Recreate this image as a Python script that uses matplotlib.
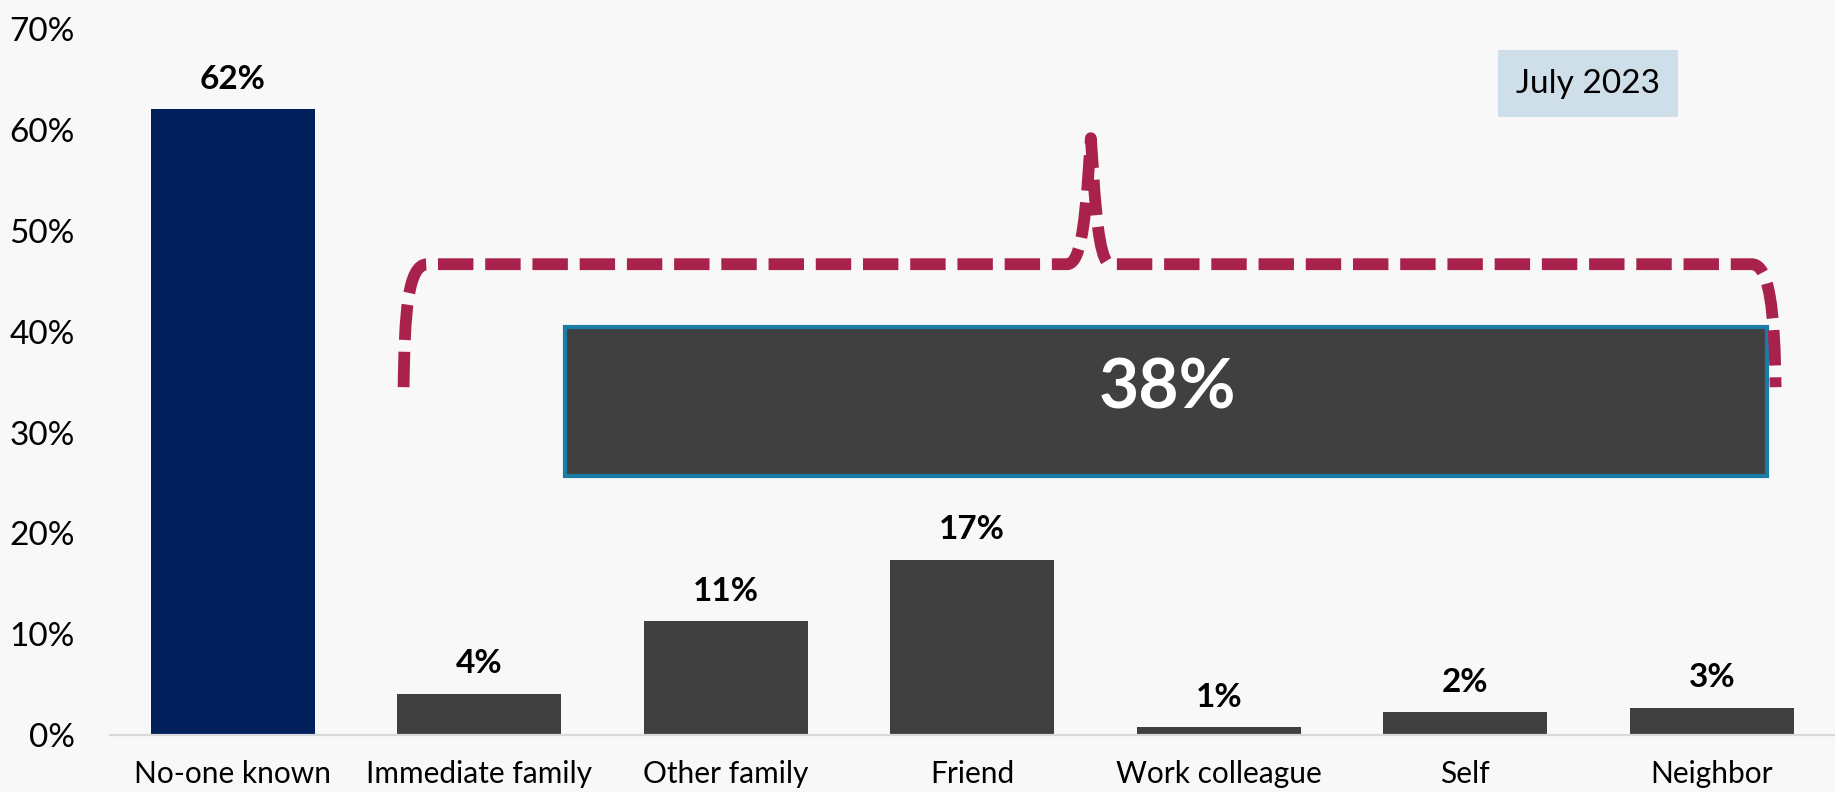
import matplotlib.pyplot as plt
from matplotlib.path import Path
from matplotlib.patches import PathPatch, Rectangle

plt.rcParams['font.family'] = ['Lato', 'DejaVu Sans']

categories = ['No-one known', 'Immediate family', 'Other family', 'Friend',
              'Work colleague', 'Self', 'Neighbor']
shares = [62.1, 4.1, 11.3, 17.4, 0.8, 2.3, 2.7]
known_total = 38
period = 'July 2023'

bg = '#F8F8F8'
navy = '#001F5B'
grey = '#404040'
crimson = '#A8224B'

fig = plt.figure(figsize=(18.35, 7.92), dpi=100, facecolor=bg)
ax = fig.add_axes([0.0597, 0.072, 0.9403, 0.891], facecolor=bg)

colors = [navy] + [grey] * (len(categories) - 1)
x = list(range(len(categories)))
bars = ax.bar(x, shares, width=0.665, color=colors, zorder=2)

for b, v in zip(bars, shares):
    ax.annotate('%d%%' % round(v), (b.get_x() + b.get_width() / 2, v),
                xytext=(0, 11), textcoords='offset points',
                ha='center', va='bottom', fontsize=24, fontweight='bold',
                color='black')

ax.set_xlim(-0.5, len(categories) - 0.5)
ax.set_ylim(0, 70)
ax.set_yticks(range(0, 71, 10))
ax.set_yticklabels(['%d%%' % t for t in range(0, 71, 10)])
ax.set_xticks(x)
ax.set_xticklabels(categories)
ax.tick_params(axis='y', length=0, pad=25, labelsize=24)
ax.tick_params(axis='x', length=0, pad=18, labelsize=21.5)

for s in ['top', 'right', 'left']:
    ax.spines[s].set_visible(False)
ax.spines['bottom'].set_color('#D9D9D9')
ax.spines['bottom'].set_linewidth(1.6)

# box with the combined share of people known
ax.add_patch(Rectangle((1.349, 25.7), 6.223 - 1.349, 40.5 - 25.7,
                       facecolor=grey, edgecolor='#1B7DA6', linewidth=3,
                       zorder=3))
ax.text(3.79, 34.3, '%d%%' % known_total, ha='center', va='center',
        fontsize=50, fontweight='bold', color='white', zorder=4)

# dashed curly brace over the known-person bars
yb = 34.5
yh = 46.7
verts = [
    (0.693, yb), (0.697, 42), (0.71, yh), (0.79, yh),
    (3.384, yh),
    (3.435, yh), (3.455, 50), (3.472, 56),
    (3.481, 59.2),
    (3.49, 56),
    (3.505, 50), (3.525, yh), (3.562, yh),
    (6.162, yh),
    (6.235, yh), (6.255, 42), (6.259, yb),
]
codes = [Path.MOVETO, Path.CURVE4, Path.CURVE4, Path.CURVE4,
         Path.LINETO,
         Path.CURVE4, Path.CURVE4, Path.CURVE4,
         Path.LINETO,
         Path.LINETO,
         Path.CURVE4, Path.CURVE4, Path.CURVE4,
         Path.LINETO,
         Path.CURVE4, Path.CURVE4, Path.CURVE4]
brace = PathPatch(Path(verts, codes), fill=False, edgecolor=crimson,
                  linewidth=8.5, linestyle=(0, (3, 1)), capstyle='butt',
                  joinstyle='round', zorder=5)
ax.add_patch(brace)

ax.text(5.498, 64.6, period, ha='center', va='center', fontsize=24,
        color='black',
        bbox=dict(boxstyle='square,pad=0.55', facecolor='#CFDFE9',
                  edgecolor='none'))

fig.savefig('out.png', dpi=100, facecolor=bg)
